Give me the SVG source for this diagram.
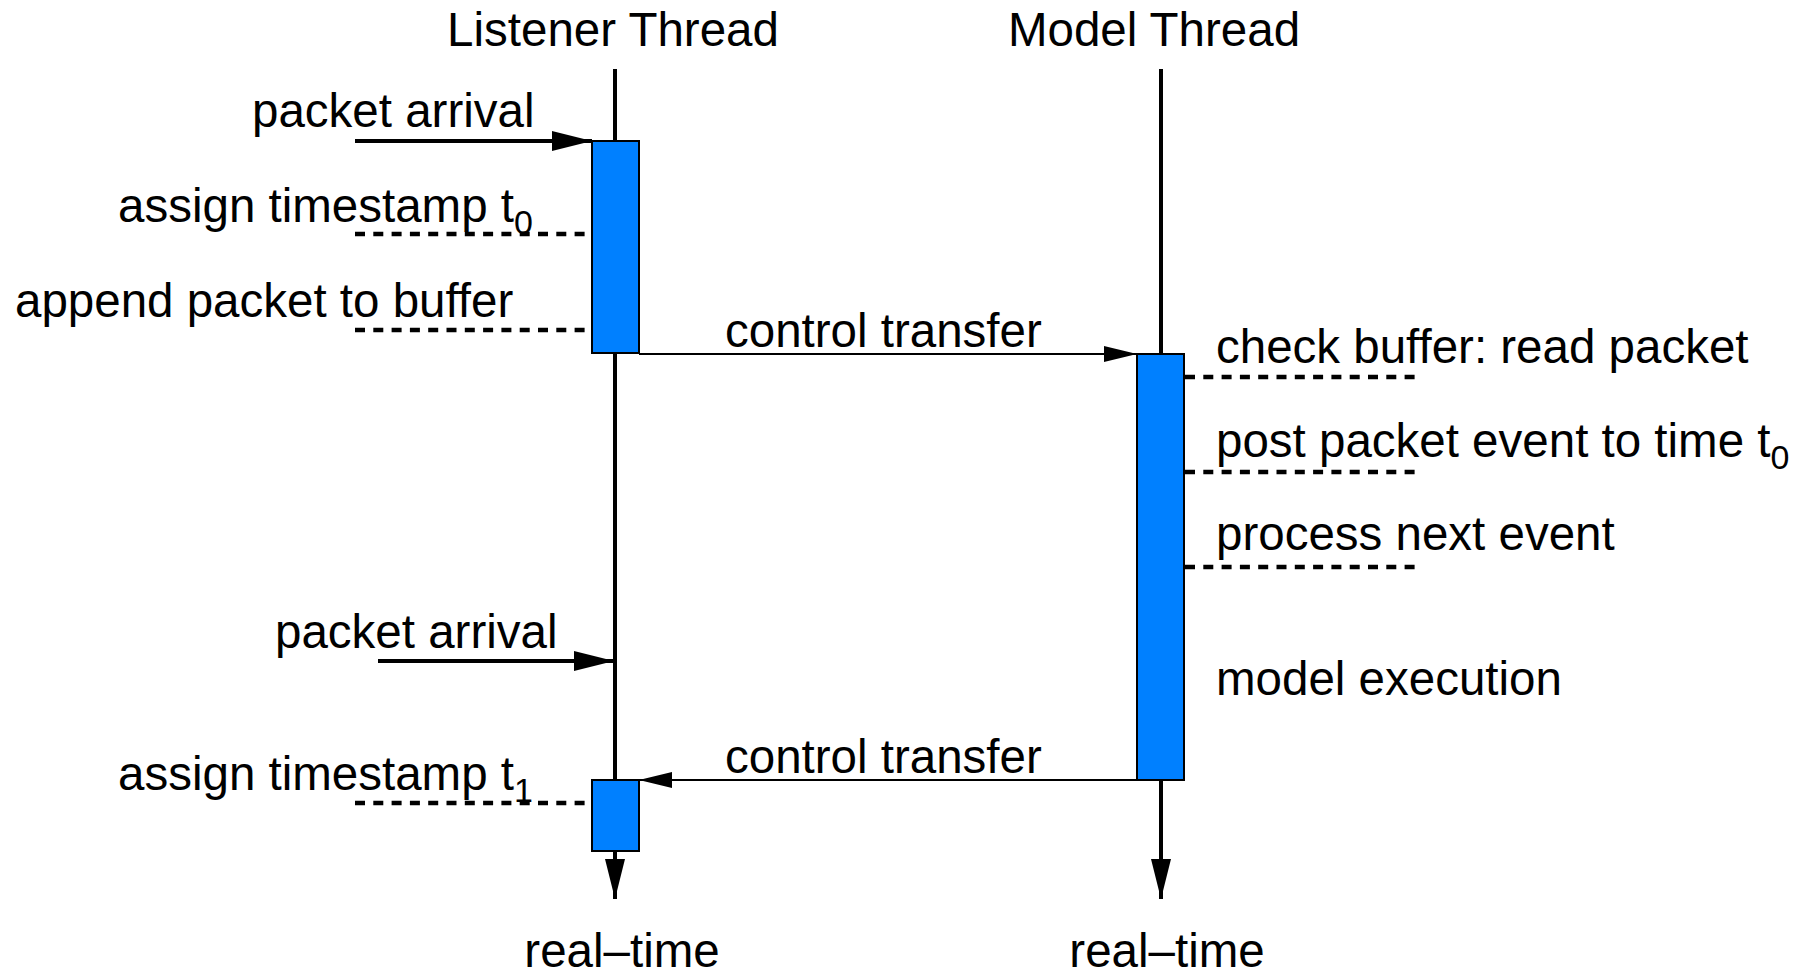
<svg xmlns="http://www.w3.org/2000/svg" width="1815" height="974" viewBox="0 0 1815 974">
<style>
  text { font-family: "Liberation Sans", Arial, sans-serif; font-size: 47.5px; fill: #000; }
  .sub { font-size: 34px; }
  .life { stroke: #000; stroke-width: 4; fill: none; }
  .act { fill: #0080ff; stroke: #000; stroke-width: 2; }
  .thick { stroke: #000; stroke-width: 4; fill: none; }
  .thin { stroke: #000; stroke-width: 2; fill: none; }
  .dash { stroke: #000; stroke-width: 4.5; fill: none; stroke-dasharray: 10 8.3; }
</style>
<defs>
  <marker id="ahThick" markerUnits="userSpaceOnUse" markerWidth="40" markerHeight="22" refX="40" refY="11" orient="auto">
    <path d="M0,1 L40,11 L0,21 z" fill="#000"/>
  </marker>
  <marker id="ahThin" markerUnits="userSpaceOnUse" markerWidth="33" markerHeight="18" refX="33" refY="9" orient="auto">
    <path d="M0,1 L33,9 L0,17 z" fill="#000"/>
  </marker>
</defs>
<rect width="1815" height="974" fill="#fff"/>

<g id="connectors">
  <line class="life" x1="615" y1="69" x2="615" y2="899" marker-end="url(#ahThick)"/>
  <line class="life" x1="1161" y1="69" x2="1161" y2="899" marker-end="url(#ahThick)"/>
  <line class="thick" x1="355" y1="141" x2="592" y2="141" marker-end="url(#ahThick)"/>
  <line class="thick" x1="378" y1="661" x2="614" y2="661" marker-end="url(#ahThick)"/>
  <line class="thin" x1="639" y1="354" x2="1137" y2="354" marker-end="url(#ahThin)"/>
  <line class="thin" x1="1137" y1="780" x2="639" y2="780" marker-end="url(#ahThin)"/>
  <line class="dash" x1="355" y1="234" x2="592" y2="234"/>
  <line class="dash" x1="355" y1="330" x2="592" y2="330"/>
  <line class="dash" x1="355" y1="803" x2="592" y2="803"/>
  <line class="dash" x1="1185" y1="377" x2="1421" y2="377"/>
  <line class="dash" x1="1185" y1="472" x2="1421" y2="472"/>
  <line class="dash" x1="1185" y1="567" x2="1421" y2="567"/>
</g>

<g id="listener-thread">
  <text x="613" y="46" text-anchor="middle">Listener Thread</text>
  <rect class="act" x="592" y="141" width="47" height="212"/>
  <rect class="act" x="592" y="780" width="47" height="71"/>
  <text x="622" y="967" text-anchor="middle">real–time</text>
</g>

<g id="model-thread">
  <text x="1154" y="46" text-anchor="middle">Model Thread</text>
  <rect class="act" x="1137" y="354" width="47" height="426"/>
  <text x="1167" y="967" text-anchor="middle">real–time</text>
</g>

<g id="listener-labels">
  <text x="252" y="127">packet arrival</text>
  <text x="118" y="222">assign timestamp t<tspan class="sub" dy="12">0</tspan></text>
  <text x="15" y="317">append packet to buffer</text>
  <text x="275" y="648">packet arrival</text>
  <text x="118" y="790">assign timestamp t<tspan class="sub" dy="12">1</tspan></text>
</g>

<g id="control-labels">
  <text x="725" y="347">control transfer</text>
  <text x="725" y="773">control transfer</text>
</g>

<g id="model-labels">
  <text x="1216" y="363">check buffer: read packet</text>
  <text x="1216" y="457">post packet event to time t<tspan class="sub" dy="12">0</tspan></text>
  <text x="1216" y="550">process next event</text>
  <text x="1216" y="695">model execution</text>
</g>
</svg>
